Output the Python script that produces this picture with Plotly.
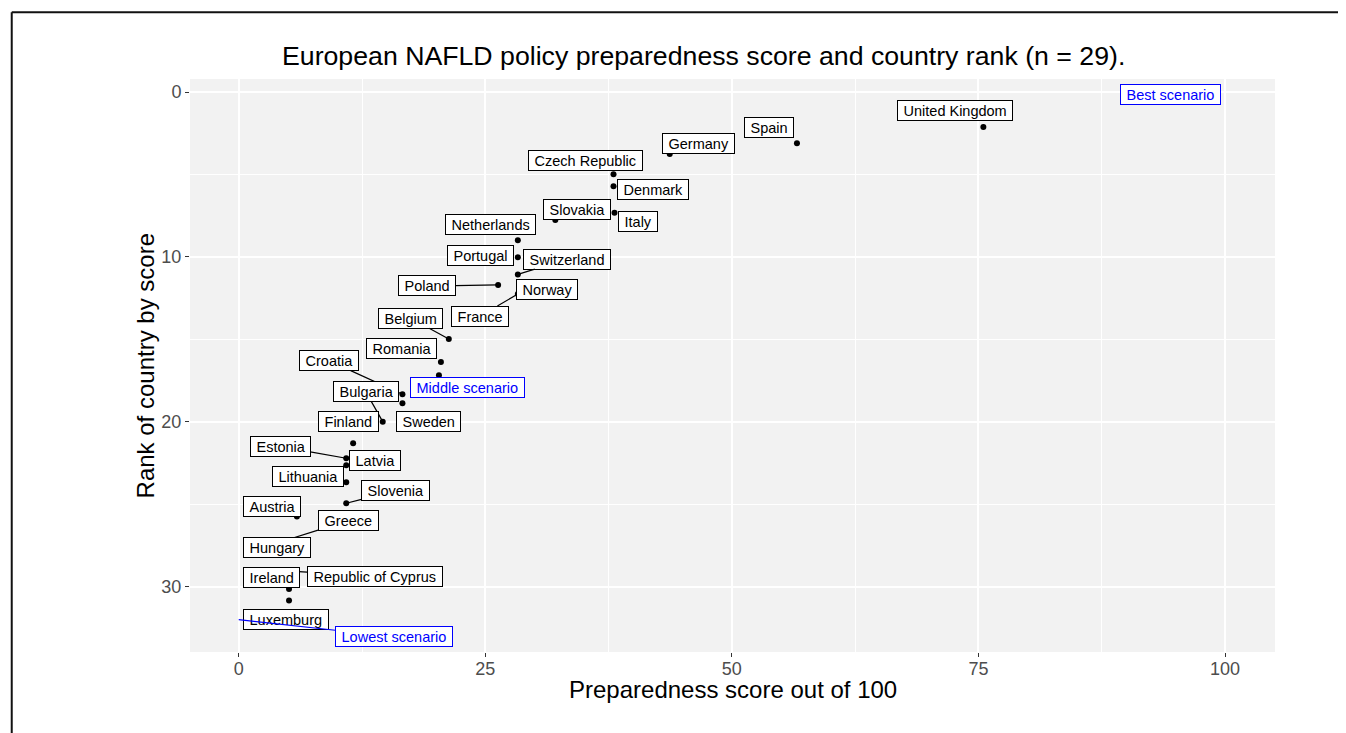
import plotly.graph_objects as go

# ---------------- data ----------------
countries = ["United Kingdom", "Spain", "Germany", "Czech Republic", "Denmark", "Italy",
             "Slovakia", "Netherlands", "Portugal", "Switzerland", "Poland", "France",
             "Norway", "Belgium", "Romania", "Croatia", "Sweden", "Bulgaria", "Finland",
             "Estonia", "Latvia", "Lithuania", "Slovenia", "Austria", "Greece", "Hungary",
             "Republic of Cyprus", "Ireland", "Luxemburg"]
scores = [75.5, 56.6, 43.7, 38.0, 38.0, 38.1, 32.1, 28.3, 28.3, 28.3, 26.3, 28.3,
          20.3, 21.3, 20.5, 16.6, 16.6, 14.6, 11.6, 10.9, 10.9, 10.9, 10.9, 5.9, 4.7, 4.2,
          5.2, 5.1, 5.1]
ranks = [2.12, 3.11, 3.76, 4.99, 5.72, 7.32, 7.76, 8.99, 10.02, 11.06, 11.70, 12.25,
         17.18, 14.98, 16.37, 18.33, 18.88, 19.99, 21.30, 22.21, 22.64, 23.67, 24.94, 25.75,
         27.20, 27.77, 29.05, 30.14, 30.83]

scenario_names = ["Best scenario", "Middle scenario", "Lowest scenario"]
scenario_scores = [100, 23.2, 0]
scenario_ranks = [0, 17.9, 32]

x_ticks = [0, 25, 50, 75, 100]
y_ticks = [0, 10, 20, 30]

# ---------------- label placement (pixel offsets from point, draw segment?) ----------------
label_layout = {
    "United Kingdom": (-28.3, -16.7, False), "Spain": (-28.4, -16, False),
    "Germany": (28.7, -10.7, False), "Czech Republic": (-28.2, -14.3, False),
    "Denmark": (39.9, 3.4, False), "Italy": (23.7, 8.3, False),
    "Slovakia": (21.7, -10.8, False), "Netherlands": (-27.5, -15.3, False),
    "Portugal": (-37.4, -1.6, False), "Switzerland": (49, -15.3, True),
    "Poland": (-71.5, 1, True), "France": (-37.5, 22, True),
    "Norway": (108.5, -86, False), "Belgium": (-38, -20.7, True),
    "Romania": (-39.2, -13.3, False), "Croatia": (-73.7, -33.6, True),
    "Sweden": (25.7, 18, False), "Bulgaria": (-17, -30, True),
    "Finland": (-5, -21.6, False), "Estonia": (-66, -11.6, True),
    "Latvia": (29.1, -4.6, False), "Lithuania": (-38.7, -6.3, False),
    "Slovenia": (49.3, -12.6, True), "Austria": (-25, -10.4, False),
    "Greece": (63, -19.9, True), "Hungary": (-3.3, -2.7, False),
    "Republic of Cyprus": (84.7, 5.7, True), "Ireland": (-17.4, -11.7, False),
    "Luxemburg": (-3.2, 18.7, False),
}
scenario_layout = {
    "Best scenario": (-54.2, 2.2, False),
    "Middle scenario": (0, 0, False),
    "Lowest scenario": (155.1, 17, True),
}

FONT = "Liberation Sans, Arial, Helvetica, sans-serif"
NB = "\u00a0"

fig = go.Figure()
fig.add_trace(go.Scatter(x=scores, y=ranks, mode="markers",
                         marker=dict(color="black", size=6), hoverinfo="text",
                         text=countries, showlegend=False))

annotations = []

def make_label(name, x, y, lay, color):
    dx, dy, seg = lay
    return dict(x=x, y=y, xref="x", yref="y", text=NB + name + NB,
                showarrow=True, ax=dx, ay=dy, arrowhead=0, arrowwidth=1.2,
                arrowcolor=color if seg else "rgba(0,0,0,0)", standoff=0,
                font=dict(family=FONT, size=14.5, color=color),
                bgcolor="white", bordercolor=color, borderwidth=1, borderpad=1.5)

# segment labels first (drawn underneath), then the others
order = sorted(range(len(countries)), key=lambda i: (not label_layout[countries[i]][2], ranks[i]))
for i in order:
    annotations.append(make_label(countries[i], scores[i], ranks[i], label_layout[countries[i]], "black"))
for n, sx, sy in zip(scenario_names, scenario_scores, scenario_ranks):
    annotations.append(make_label(n, sx, sy, scenario_layout[n], "#0000FF"))

# titles
annotations.append(dict(text="European NAFLD policy preparedness score and country rank (n = 29).",
                        xref="paper", yref="paper", x=0.4737, y=1.040, xanchor="center",
                        yanchor="middle", showarrow=False,
                        font=dict(family=FONT, size=26.7, color="black")))
annotations.append(dict(text="Preparedness score out of 100", xref="paper", yref="paper",
                        x=0.5, y=-0.0646, xanchor="center", yanchor="middle", showarrow=False,
                        font=dict(family=FONT, size=24, color="black")))
annotations.append(dict(text="Rank of country by score", xref="paper", yref="paper",
                        x=-0.0406, y=0.5, xanchor="center", yanchor="middle", showarrow=False,
                        textangle=-90, font=dict(family=FONT, size=24, color="black")))

# outer frame lines
shapes = [
    dict(type="line", xref="paper", yref="paper", x0=-0.1643, x1=1.1, y0=1.1164, y1=1.1164,
         line=dict(color="#111111", width=2)),
    dict(type="line", xref="paper", yref="paper", x0=-0.1643, x1=-0.1643, y0=1.1164, y1=-0.2,
         line=dict(color="#111111", width=2)),
]

fig.update_layout(
    width=1346, height=733,
    margin=dict(l=182, r=79, t=71, b=89),
    paper_bgcolor="white", plot_bgcolor="#F2F2F2",
    annotations=annotations, shapes=shapes, showlegend=False,
    font=dict(family=FONT),
)
fig.update_xaxes(range=[-4.94, 105.07], tickvals=x_ticks, ticktext=[str(v) for v in x_ticks],
                 showgrid=True, gridcolor="white", gridwidth=1.5, zeroline=False,
                 ticks="outside", ticklen=4, tickcolor="#333333", tickwidth=1,
                 ticklabelstandoff=-4,
                 tickfont=dict(family=FONT, size=18, color="#4D4D4D"),
                 minor=dict(tickvals=[12.5, 37.5, 62.5, 87.5], showgrid=True,
                            gridcolor="white", gridwidth=1, ticks=""),
                 showline=False)
fig.update_yaxes(range=[33.96, -0.79], tickvals=y_ticks, ticktext=[str(v) for v in y_ticks],
                 showgrid=True, gridcolor="white", gridwidth=1.5, zeroline=False,
                 ticks="outside", ticklen=4, tickcolor="#333333", tickwidth=1,
                 tickfont=dict(family=FONT, size=18, color="#4D4D4D"),
                 minor=dict(tickvals=[5, 15, 25], showgrid=True,
                            gridcolor="white", gridwidth=1, ticks=""),
                 showline=False)

fig.write_html("out.html")
